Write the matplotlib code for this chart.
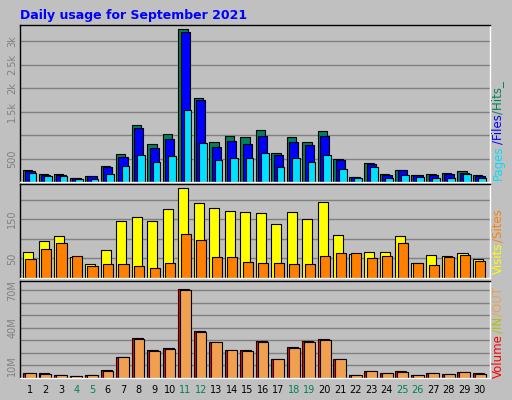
import matplotlib
matplotlib.use("Agg")
import matplotlib.pyplot as plt
import numpy as np

days = list(range(1, 31))
weekend = [4, 5, 11, 12, 18, 19, 25, 26]
hits = [257,171,171,93,136,350,607,1221,821,1028,3256,1800,843,985,950,1100,628,950,864,1078,500,114,414,178,264,157,178,200,243,157]
files = [243,150,150,79,121,321,543,1157,735,928,3200,1742,757,885,821,985,578,857,800,971,478,100,386,150,257,150,150,171,200,128]
pages = [200,136,136,64,71,171,350,578,435,564,1542,835,478,521,521,621,328,521,435,578,286,93,328,93,157,114,93,93,178,93]
visits = [67,95,108,53,35,72,145,155,145,176,231,192,179,171,168,166,137,168,150,194,111,61,67,67,108,38,59,56,64,48]
sites = [48,74,90,56,30,35,35,30,25,38,113,98,53,53,40,38,38,35,35,56,64,64,51,56,90,38,33,53,59,43]
volume = [4.2,4.2,2.6,1.8,2.6,6.6,16.8,32,22.4,24,71,37.4,28.7,22.4,22.4,29.5,15.3,24.7,29.5,31,15.3,2.6,5.8,4.2,5.8,2.6,4.2,3.4,5,4.2]
vol_out = [4.2,3.4,2.6,1.6,2.6,5.8,16.8,31.2,21.6,23.4,70.3,36.6,28.7,22.4,21.6,28.7,15.3,23.9,28.7,30.3,15.3,2.6,5.8,4.2,5.0,2.6,4.2,3.4,5.0,3.4]

W, H = 512, 400
fig = plt.figure(figsize=(W/100, H/100), dpi=100)
fig.patch.set_facecolor("#c0c0c0")
x = np.array(days, dtype=float)

def ax_at(top, bottom):
    a = fig.add_axes([20/W, 1-bottom/H, 470/W, (bottom-top)/H])
    a.set_facecolor("#c0c0c0")
    a.set_xlim(0.35, 30.65)
    a.set_xticks([])
    for s in a.spines.values():
        s.set_color("#000000"); s.set_linewidth(1)
    a.spines["right"].set_color("white"); a.spines["bottom"].set_color("white")
    a.tick_params(axis="y", length=0, labelsize=7, labelcolor="#808080", pad=2)
    a.set_axisbelow(True)
    a.grid(axis="y", color="#808080", linewidth=1)
    return a

kw = dict(align="edge", edgecolor="black", linewidth=0.8)

a1 = ax_at(25, 182)
a1.set_ylim(0, 3350)
a1.set_yticks([500,1000,1500,2000,2500,3000])
a1.set_yticklabels(["500","","1.5k","2k","2.5k","3k"], rotation=90, va="center")
a1.bar(x-0.45, hits, 0.6, color="#00805c", **kw)
a1.bar(x-0.3, files, 0.6, color="#0000ff", **kw)
a1.bar(x-0.1, pages, 0.5, color="#00e0ff", **kw)

a2 = ax_at(184, 278)
a2.set_ylim(0, 240)
a2.set_yticks([50,100,150,200])
a2.set_yticklabels(["50","","150",""], rotation=90, va="center")
a2.bar(x-0.45, visits, 0.65, color="#ffff00", **kw)
a2.bar(x-0.3, sites, 0.65, color="#ff8000", **kw)

a3 = ax_at(281, 378)
a3.set_ylim(0, 77.5)
a3.set_yticks([10,20,30,40,50,60,70])
a3.set_yticklabels(["10M","","","40M","","","70M"], rotation=90, va="center")
a3.bar(x-0.45, volume, 0.7, color="#ff0000", **kw)
a3.bar(x-0.33, vol_out, 0.7, color="#f0a050", **kw)

for d in days:
    a3.text(d, -5.5, str(d), ha="center", va="top", fontsize=7,
            color="#00805c" if d in weekend else "black", clip_on=False)

fig.text(20/W, 1-15/H, "Daily usage for September 2021", color="#0000ff",
         fontsize=9, fontweight="bold", va="center")

fig.canvas.draw()
renderer = fig.canvas.get_renderer()

def side(y_bottom, parts):
    y = y_bottom
    for txt, col in parts:
        t = fig.text(498/W, 1-y/H, txt, color=col, rotation=90, fontsize=8.5,
                     ha="center", va="bottom")
        bb = t.get_window_extent(renderer)
        y -= bb.height + 1
side(180, [("Pages", "#00e0ff"), ("/Files", "#0000ff"), ("/Hits_", "#00805c")])
side(274, [("Visits", "#ffff00"), ("/Sites", "#ff8000")])
side(378, [("Volume", "#ff0000"), ("/IN", "#b0c000"), ("/OUT", "#f0a050")])

fig.savefig("out.png", dpi=100, facecolor=fig.get_facecolor())
